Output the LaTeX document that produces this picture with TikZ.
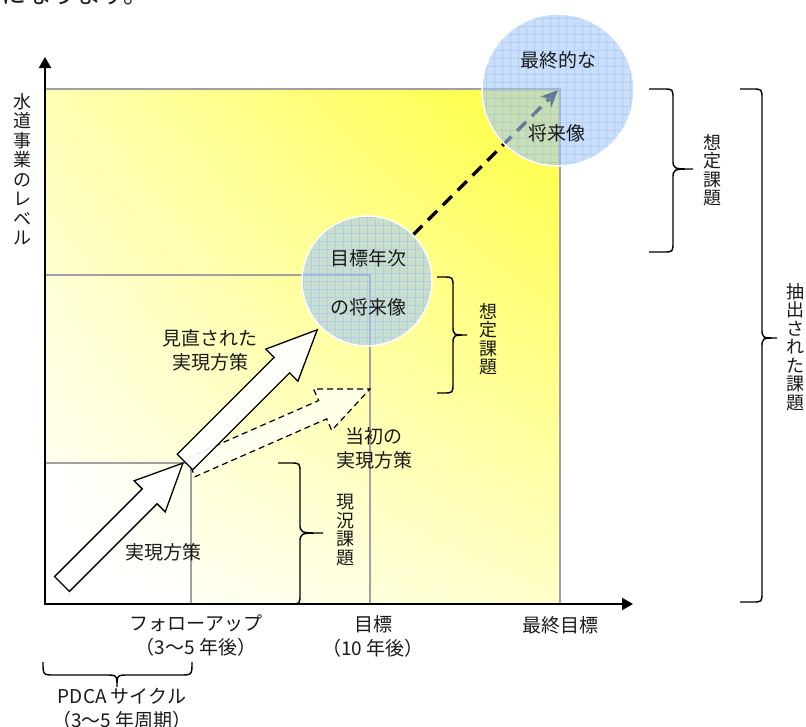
\documentclass[tikz,border=0pt]{standalone}
\usepackage{fontspec}
\setmainfont{Noto Sans CJK JP}
\usetikzlibrary{arrows.meta,shadings}
\pgfdeclarelayer{bottom}
\pgfdeclarelayer{mid}
\pgfsetlayers{bottom,mid,main}
\definecolor{txt}{HTML}{1A1A1A}
\definecolor{edge}{HTML}{A0A0A0}
\definecolor{yelA}{RGB}{255,255,60}
\definecolor{yelAUL}{RGB}{255,255,180}
\definecolor{yelALR}{RGB}{255,255,200}
\definecolor{yelB}{RGB}{255,255,140}
\definecolor{yelBUL}{RGB}{255,255,215}
\definecolor{yelBLR}{RGB}{255,255,228}
\definecolor{yelC}{RGB}{255,255,232}
\definecolor{bub}{RGB}{165,202,248}
\definecolor{gridc}{RGB}{120,170,245}
\tikzset{
  lbl/.style={font=\fontsize{19}{24}\selectfont, text=txt, inner sep=0pt, align=center},
  vlbl/.style={font=\fontsize{18}{18.5}\selectfont, text=txt, inner sep=0pt, align=center},
  edgeline/.style={draw=edge, line width=1.3pt},
  axisline/.style={line width=2.2pt, {Triangle[length=11pt,width=12pt]}-{Triangle[length=11pt,width=12pt]}},
  bubble/.style={circle, inner sep=0pt, minimum size=#1, fill=bub, fill opacity=0.6,
     path picture={\draw[gridc, line width=0.5pt, opacity=0.3] (path picture bounding box.north west) grid[step=8pt] (path picture bounding box.south east);}},
  bubblerim/.style={circle, inner sep=0pt, minimum size=#1, draw=white, line width=1.5pt},
  bigarrow/.style={draw=black, line width=1.3pt, fill=white, fill opacity=0.93, line join=miter},
  dasharrow/.style={draw=black, line width=1.2pt, dash pattern=on 6pt off 4pt, fill=white, fill opacity=0.7, line join=miter},
  bracestyle/.style={draw=black, line width=1.4pt},
  goalline/.style={line width=3.5pt, dash pattern=on 13pt off 8pt, -{Stealth[length=17pt,width=15pt,inset=5pt]}},
}
\newcommand{\mybrace}[6]{%
  \draw[bracestyle] (#1,#4) -- ({#2-10},#4) .. controls (#2,#4) .. (#2,{#4+10})
    -- (#2,{#5-10}) .. controls (#2,#5) .. (#3,#5) .. controls (#2,#5) .. (#2,{#5+10})
    -- (#2,{#6-10}) .. controls (#2,#6) .. ({#2-10},#6) -- (#1,#6);}
\begin{document}
\begin{tikzpicture}[x=1pt,y=-1pt]
\useasboundingbox (0,0) rectangle (806,726);

% cut-off sentence at the very top
\begin{scope}
  \clip (0,0) rectangle (806,8);
  \node[font=\fontsize{25}{25}\selectfont, anchor=base east, inner sep=0pt, text=txt] (frag) at (149,3) {ようになります。};
\end{scope}

\begin{pgfonlayer}{bottom}
  \shade[upper right=yelA, upper left=yelAUL, lower right=yelALR, lower left=white] (45,89) rectangle (560,604);
  \shade[upper right=yelB, upper left=yelBUL, lower right=yelBLR, lower left=white] (45,275) rectangle (370,604);
  \shade[upper right=yelC, upper left=white, lower right=white, lower left=white] (45,463) rectangle (191,604);
  \draw[edgeline] (45,89) -- (560,89) -- (560,604);
  \draw[edgeline] (45,275) -- (370,275) -- (370,604);
  \draw[edgeline] (45,463) -- (191,463) -- (191,604);
  \coordinate (O) at (45,604);
  \coordinate (ytip) at (45,57);
  \coordinate (xtip) at (633,604);
  \draw[axisline] (ytip) -- (O) -- (xtip);
\end{pgfonlayer}

% white strategy arrows
\begin{scope}[shift={(191,467.5)}, rotate=23.7]
  \draw[dasharrow] (0,-10) -- (143.8,-10) -- (143.8,-22.6) -- (195.5,0) -- (143.8,22.6) -- (143.8,10) -- (0,10) -- cycle;
\end{scope}
\begin{scope}[shift={(185,462)}, rotate=45]
  \draw[bigarrow] (0,-11) -- (137,-11) -- (137,-22.7) -- (187,0) -- (137,22.7) -- (137,11) -- (0,11) -- cycle;
\end{scope}
\begin{scope}[shift={(62,584)}, rotate=45]
  \draw[bigarrow] (0,-10.5) -- (124,-10.5) -- (124,-22) -- (171,0) -- (124,22) -- (124,10.5) -- (0,10.5) -- cycle;
\end{scope}

% vision circles
\node[bubble=130pt] (c1) at (367,281) {};
\node[bubble=152pt] (c2) at (558,90) {};
\node[bubblerim=130pt] (r1) at (c1) {};
\node[bubblerim=152pt] (r2) at (c2) {};
\begin{pgfonlayer}{mid}
  \draw[goalline] (c1.north east) -- (c2.center);
\end{pgfonlayer}

% braces
\mybrace{278}{300}{323}{463}{533}{604}
\mybrace{437}{453}{467}{277}{335}{393}
\mybrace{649}{673}{693}{89}{169}{252}
\mybrace{740}{762}{777}{89}{338}{602}
\draw[bracestyle] (43,662) .. controls (43,675) .. (55,675) -- (105,675) .. controls (117,675) .. (117,687)
   .. controls (117,675) .. (129,675) -- (180,675) .. controls (192,675) .. (192,662);

% labels
\node[lbl] (t1) at (558,60) {最終的な};
\node[lbl] (t2) at (557,133) {将来像};
\node[lbl] (t3) at (368,258) {目標年次};
\node[lbl] (t4) at (368,307) {の将来像};
\node[lbl] (t5) at (210,350) {見直された\\実現方策};
\node[lbl] (t6) at (374,448) {当初の\\実現方策};
\node[lbl] (t7) at (163,552) {実現方策};
\node[lbl] (t8) at (196,636) {フォローアップ\\（3～5 年後）};
\node[lbl] (t9) at (373,636) {目標\\（10 年後）};
\node[lbl] (t10) at (560,625) {最終目標};
\node[lbl] (t11) at (122,709) {PDCA サイクル\\（3～5 年周期）};

\node[vlbl] (v1) at (345,530) {現\\況\\課\\題};
\node[vlbl] (v2) at (488,339) {想\\定\\課\\題};
\node[vlbl] (v3) at (712,170) {想\\定\\課\\題};
\node[vlbl] (v4) at (795,347) {抽\\出\\さ\\れ\\た\\課\\題};
\node[vlbl, font=\fontsize{18}{19.5}\selectfont] (v5) at (22,169) {水\\道\\事\\業\\の\\レ\\ベ\\ル};
\end{tikzpicture}
\end{document}
